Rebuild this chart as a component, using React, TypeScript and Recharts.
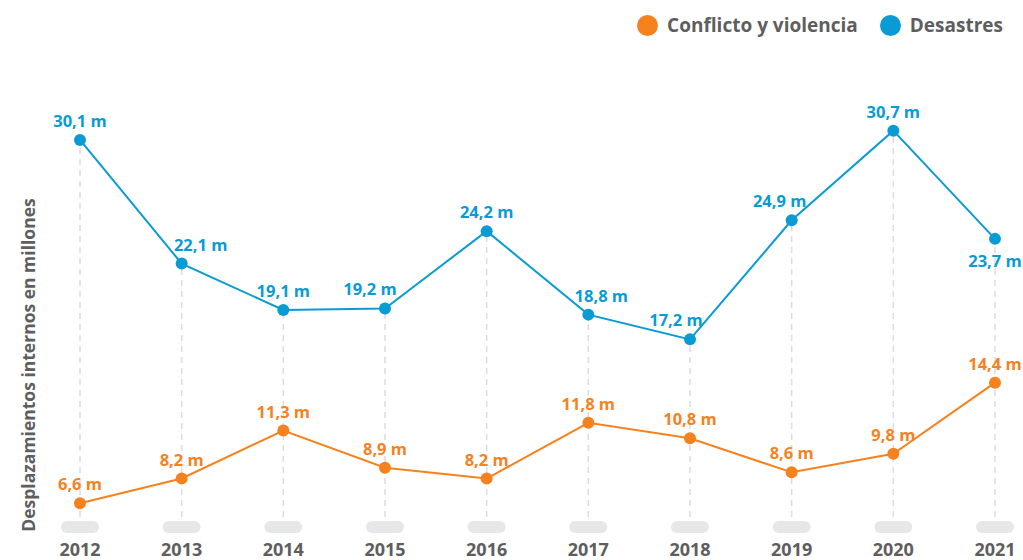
import { LineChart, Line, XAxis, YAxis, ReferenceLine, LabelList, Legend, Label } from "recharts";

const years = ["2012", "2013", "2014", "2015", "2016", "2017", "2018", "2019", "2020", "2021"];
const conflicto = [6.6, 8.2, 11.3, 8.9, 8.2, 11.8, 10.8, 8.6, 9.8, 14.4];
const desastres = [30.1, 22.1, 19.1, 19.2, 24.2, 18.8, 17.2, 24.9, 30.7, 23.7];

const ORANGE = "#f5821f";
const BLUE = "#0a9bd5";
const GREY_TEXT = "#5e5e5e";
const FONT = "'Open Sans', Lato, sans-serif";
const Y_MIN = 5;

// nudge some blue labels sideways so they don't sit on the line
const blueShift: Record<number, number> = { 1: 19, 3: -15, 5: 13, 6: -14, 7: -12 };
const blueBelow: Record<number, boolean> = { 9: true };

const chartData = years.map((year, i) => ({ year, conflicto: conflicto[i], desastres: desastres[i] }));

const fmt = (v: number) => `${v.toFixed(1).replace(".", ",")} m`;

function YearTick(props: any) {
  const { x, y, payload } = props;
  return (
    <g>
      <rect x={x - 19} y={y - 15} width={38} height={12} rx={6} fill="#e6e7e8" />
      <text x={x} y={y + 20} textAnchor="middle" fontFamily={FONT} fontWeight={700} fontSize={18} fill={GREY_TEXT}>
        {payload.value}
      </text>
    </g>
  );
}

function LegendContent(props: any) {
  const items = props.payload || [];
  return (
    <div style={{ display: "flex", justifyContent: "flex-end", alignItems: "center", fontFamily: FONT }}>
      {items.map((it: any) => (
        <div key={it.value} style={{ display: "flex", alignItems: "center", marginLeft: 22 }}>
          <span style={{ width: 21, height: 21, borderRadius: "50%", background: it.color, display: "inline-block", marginRight: 9 }} />
          <span style={{ fontSize: 19, fontWeight: 700, color: GREY_TEXT }}>{it.value}</span>
        </div>
      ))}
    </div>
  );
}

function YLabel(props: any) {
  const { viewBox } = props;
  const x = 28;
  const y = viewBox.y + viewBox.height / 2 + 38;
  return (
    <text x={x} y={y} transform={`rotate(-90, ${x}, ${y})`} textAnchor="middle" dominantBaseline="central"
      fontFamily={FONT} fontWeight={700} fontSize={17.5} fill={GREY_TEXT}>
      Desplazamientos internos en millones
    </text>
  );
}

export default function App() {
  return (
    <div style={{ position: "absolute", left: 0, top: 0, width: 1023, height: 560, background: "#fff" }}>
      <LineChart width={1023} height={560} data={chartData} margin={{ top: 126, right: 28, bottom: 0, left: 10 }}>
        <XAxis dataKey="year" height={32} axisLine={false} tickLine={false} tick={<YearTick />} interval={0} />
        <YAxis width={70} domain={[Y_MIN, 31]} tick={false} axisLine={false} tickLine={false}>
          <Label content={<YLabel />} />
        </YAxis>
        {chartData.map((d) => (
          <ReferenceLine
            key={d.year}
            segment={[{ x: d.year, y: Y_MIN }, { x: d.year, y: d.desastres }]}
            stroke="#dcdcdc"
            strokeWidth={1.5}
            strokeDasharray="6 5"
            ifOverflow="visible"
          />
        ))}
        <Legend
          verticalAlign="middle"
          align="center"
          layout="horizontal"
          wrapperStyle={{ top: 12, left: 500, width: 503 }}
          content={<LegendContent />}
        />
        <Line
          dataKey="conflicto"
          name="Conflicto y violencia"
          stroke={ORANGE}
          strokeWidth={2}
          dot={{ r: 6, fill: ORANGE, stroke: ORANGE, strokeWidth: 0 }}
          isAnimationActive={false}
        >
          <LabelList
            dataKey="conflicto"
            content={(p: any) => (
              <text x={p.x} y={p.y - 13} textAnchor="middle" fontFamily={FONT} fontWeight={700} fontSize={16.5} fill={ORANGE}>
                {fmt(p.value)}
              </text>
            )}
          />
        </Line>
        <Line
          dataKey="desastres"
          name="Desastres"
          stroke={BLUE}
          strokeWidth={2}
          dot={{ r: 6, fill: BLUE, stroke: BLUE, strokeWidth: 0 }}
          isAnimationActive={false}
        >
          <LabelList
            dataKey="desastres"
            content={(p: any) => (
              <text
                x={p.x + (blueShift[p.index] || 0)}
                y={blueBelow[p.index] ? p.y + 28 : p.y - 13}
                textAnchor="middle"
                fontFamily={FONT}
                fontWeight={700}
                fontSize={16.5}
                fill={BLUE}
              >
                {fmt(p.value)}
              </text>
            )}
          />
        </Line>
      </LineChart>
    </div>
  );
}
